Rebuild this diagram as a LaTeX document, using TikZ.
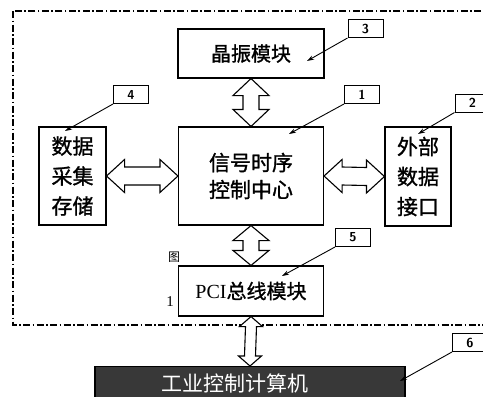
\documentclass[tikz,border=0pt]{standalone}
\usepackage{fontspec}
\setmainfont{Liberation Serif}
\newfontfamily\cjk[FakeBold=1.2]{Noto Sans CJK SC}
\newfontfamily\cjkplain{Noto Sans CJK SC}
\usetikzlibrary{calc,arrows.meta}
\tikzset{
  box/.style={draw, line width=1.1pt, inner sep=0pt, font=\cjk},
  tag/.style={draw, line width=1pt, minimum width=35pt, minimum height=18pt, inner sep=0pt, font=\sffamily\bfseries\fontsize{13}{13}\selectfont},
  pointer/.style={line width=0.9pt, -{Stealth[length=7pt,width=4.5pt]}},
  blk/.style={draw, line width=1.1pt, fill=white, line join=miter},
  frame/.style={line width=1.2pt, dash pattern=on 7pt off 2.5pt on 1.5pt off 2.5pt}
}
\newcommand\vbi[5]{% A (top), B (bottom), head half, shaft half, head length
  \draw[blk] (#1) -- ($(#1)+(#3,#5)$) -- ($(#1)+(#4,#5)$) -- ($(#2)+(#4,-#5)$) -- ($(#2)+(#3,-#5)$) -- (#2)
    -- ($(#2)+(-#3,-#5)$) -- ($(#2)+(-#4,-#5)$) -- ($(#1)+(-#4,#5)$) -- ($(#1)+(-#3,#5)$) -- cycle;}
\newcommand\hbi[5]{% A (left), B (right)
  \draw[blk] (#1) -- ($(#1)+(#5,#3)$) -- ($(#1)+(#5,#4)$) -- ($(#2)+(-#5,#4)$) -- ($(#2)+(-#5,#3)$) -- (#2)
    -- ($(#2)+(-#5,-#3)$) -- ($(#2)+(-#5,-#4)$) -- ($(#1)+(#5,-#4)$) -- ($(#1)+(#5,-#3)$) -- cycle;}
\begin{document}
\begin{tikzpicture}[x=1pt,y=-1pt]
\useasboundingbox (0,0) rectangle (483,397);
% frame
\draw[frame] (13,11) rectangle (500,325);
% main boxes
\node[box, minimum width=146pt, minimum height=49pt, font=\cjk\fontsize{20}{20}\selectfont] (xtal) at (251,53.5) {晶振模块};
\node[box, minimum width=145pt, minimum height=98pt, align=center, font=\cjk\fontsize{21}{27}\selectfont] (ctrl) at (251,176) {信号时序\\控制中心};
\node[box, minimum width=67pt, minimum height=98pt, align=center, font=\cjk\fontsize{21}{30}\selectfont] (store) at (72.5,176) {数据\\采集\\存储};
\node[box, minimum width=66pt, minimum height=99pt, align=center, font=\cjk\fontsize{21}{30}\selectfont] (ext) at (418,176.5) {外部\\数据\\接口};
\node[box, minimum width=145pt, minimum height=50pt, font=\fontsize{20}{20}\selectfont] (pci) at (251,291) {PCI{\cjk 总线模块}};
\node[draw, line width=1.1pt, fill=black!78, minimum width=310pt, minimum height=34pt, anchor=north, text=white, font=\cjkplain\fontsize{21}{21}\selectfont] (pc) at (250,366) {\hspace*{-30pt}工业控制计算机};
% stray text
\node[font=\cjkplain\fontsize{12}{12}\selectfont, inner sep=0pt] (fig) at (174,257) {图};
\node[font=\fontsize{15}{15}\selectfont, inner sep=0pt] (one) at (170,302) {1};
% block arrows
\vbi{xtal.south}{ctrl.north}{18}{8}{17}
\vbi{ctrl.south}{pci.north}{18}{8}{15}
\vbi{pci.south}{pc.north}{11.5}{5.5}{10}
\hbi{store.east}{ctrl.west}{16.5}{9}{18}
\hbi{ctrl.east}{ext.west}{16.5}{9}{18}
% tags
\node[tag] (t3) at (365.5,28.5) {3};
\node[tag] (t4) at (131,94.5) {4};
\node[tag] (t1) at (362,94.5) {1};
\node[tag] (t2) at (472.5,103) {2};
\node[tag] (t5) at (353,237.5) {5};
\node[tag] (t6) at (470,342.5) {6};
\coordinate (p3) at (307,61);
\coordinate (p4) at (65,131);
\coordinate (p1) at (289,134);
\coordinate (p2) at (418,134);
\coordinate (p5) at (282,276);
\coordinate (p6) at (400,381);
\draw[pointer] (t3.south west) -- (p3);
\draw[pointer] (t4.south west) -- (p4);
\draw[pointer] (t1.south west) -- (p1);
\draw[pointer] (t2.south west) -- (p2);
\draw[pointer] (t5.south west) -- (p5);
\draw[pointer] (t6.south west) -- (p6);
\end{tikzpicture}
\end{document}
